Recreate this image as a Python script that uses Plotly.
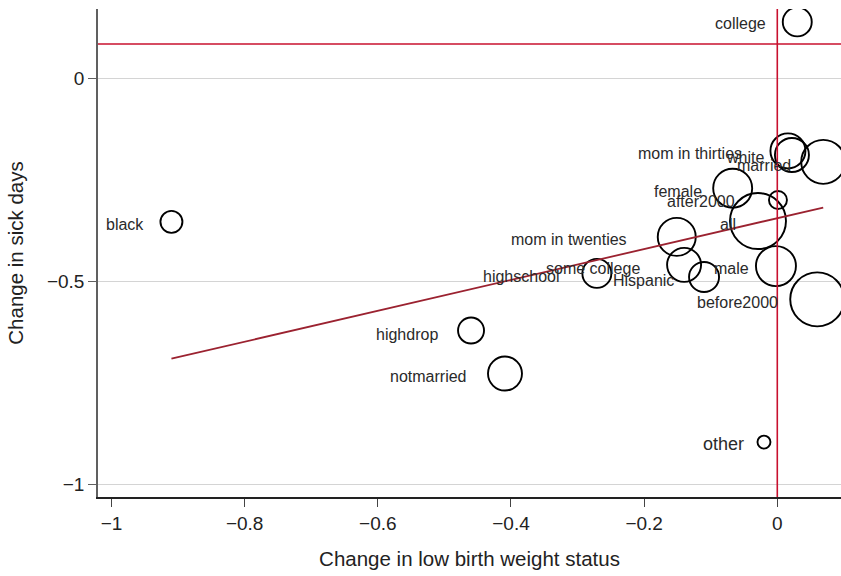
import plotly.graph_objects as go

# ---------------- data ----------------
groups = ["college", "black", "highdrop", "notmarried", "other", "highschool",
          "mom in twenties", "some college", "Hispanic", "female", "all",
          "after2000", "male", "before2000", "mom in thirties", "white", "married"]
change_lbw = [0.030, -0.910, -0.460, -0.409, -0.020, -0.271,
              -0.151, -0.140, -0.110, -0.067, -0.029,
              0.001, -0.002, 0.060, 0.016, 0.022, 0.069]
change_sick = [0.140, -0.353, -0.621, -0.727, -0.896, -0.480,
               -0.390, -0.459, -0.489, -0.270, -0.351,
               -0.299, -0.462, -0.544, -0.178, -0.188, -0.205]
weights = [2.10, 1.21, 1.69, 2.89, 0.42, 2.10,
           3.61, 2.89, 2.25, 3.80, 7.84,
           0.81, 4.00, 7.29, 3.06, 2.89, 4.84]

fit_intercept = -0.344
fit_slope = 0.3805
ref_sick = 0.0855
ref_lbw = 0.0

x_ticks = [-1, -0.8, -0.6, -0.4, -0.2, 0]
x_tick_labels = ["\u22121", "\u22120.8", "\u22120.6", "\u22120.4", "\u22120.2", "0"]
y_ticks = [-1, -0.5, 0]
y_tick_labels = ["\u22121", "\u22120.5", "0"]

# ---------------- styles ----------------
FONT = "Liberation Sans, Arial, Helvetica, sans-serif"
label_offsets = {  # (dx px, dy px down) of label right edge from marker centre
    "college": (-29, 2), "black": (-25, 3), "highdrop": (-31, 3.5),
    "notmarried": (-37, 3), "other": (-18, 1.5), "highschool": (-35, 3.5),
    "mom in twenties": (-48, 3), "some college": (-42, 4), "Hispanic": (-28, 3),
    "female": (-29, 3), "all": (-20, 3), "after2000": (-41, 2), "male": (-25, 2),
    "before2000": (-37, 3), "mom in thirties": (-44, 3), "white": (-26, 3),
    "married": (-30, 4),
}
label_sizes = {"other": 18}

fig = go.Figure()

# bubbles
fig.add_trace(go.Scatter(
    x=change_lbw, y=change_sick, mode="markers",
    marker=dict(size=weights, sizemode="area", sizeref=0.005, opacity=1,
                color="rgba(0,0,0,0)", line=dict(color="#000000", width=1.9)),
    hovertext=groups, hoverinfo="text+x+y", showlegend=False,
))

# fitted line
x0, x1 = min(change_lbw), max(change_lbw)
fig.add_trace(go.Scatter(
    x=[x0, x1], y=[fit_intercept + fit_slope * x0, fit_intercept + fit_slope * x1],
    mode="lines", line=dict(color="#9b2230", width=1.8), showlegend=False,
    hoverinfo="skip",
))

# reference lines
fig.add_hline(y=ref_sick, line=dict(color="#c8102e", width=1.6))
fig.add_vline(x=ref_lbw, line=dict(color="#c8102e", width=1.6))

# labels
for g, xv, yv in zip(groups, change_lbw, change_sick):
    dx, dy = label_offsets[g]
    fig.add_annotation(
        x=xv, y=yv, text=g, showarrow=False, xanchor="right", yanchor="middle",
        xshift=dx, yshift=-dy,
        font=dict(family=FONT, size=label_sizes.get(g, 16), color="#2a2a2a"),
    )

fig.update_layout(
    width=841, height=576,
    margin=dict(l=98, r=0, t=9, b=79),
    paper_bgcolor="white", plot_bgcolor="white",
    font=dict(family=FONT, color="#222222"),
    xaxis=dict(
        range=[-1.0203, 0.0957], tickvals=x_ticks, ticktext=x_tick_labels,
        showgrid=False, zeroline=False, showline=True, linecolor="#222222",
        linewidth=1.5, ticks="outside", ticklen=8, tickcolor="#444444",
        tickfont=dict(size=19, color="#222222"),
        title=dict(text="Change in low birth weight status",
                   font=dict(size=20.5, color="#222222"), standoff=19),
    ),
    yaxis=dict(
        range=[-1.0313, 0.1718], tickvals=y_ticks, ticktext=y_tick_labels,
        showgrid=True, gridcolor="#d4d4d4", gridwidth=1.2, zeroline=False,
        showline=True, linecolor="#606060", linewidth=1.5,
        ticks="outside", ticklen=8, tickcolor="#606060",
        tickfont=dict(size=19, color="#222222"),
        title=dict(text="Change in sick days",
                   font=dict(size=20.5, color="#222222"), standoff=18),
    ),
)

fig.write_html("out.html", config={"displayModeBar": False},
               post_script="document.body.style.margin='0';")
